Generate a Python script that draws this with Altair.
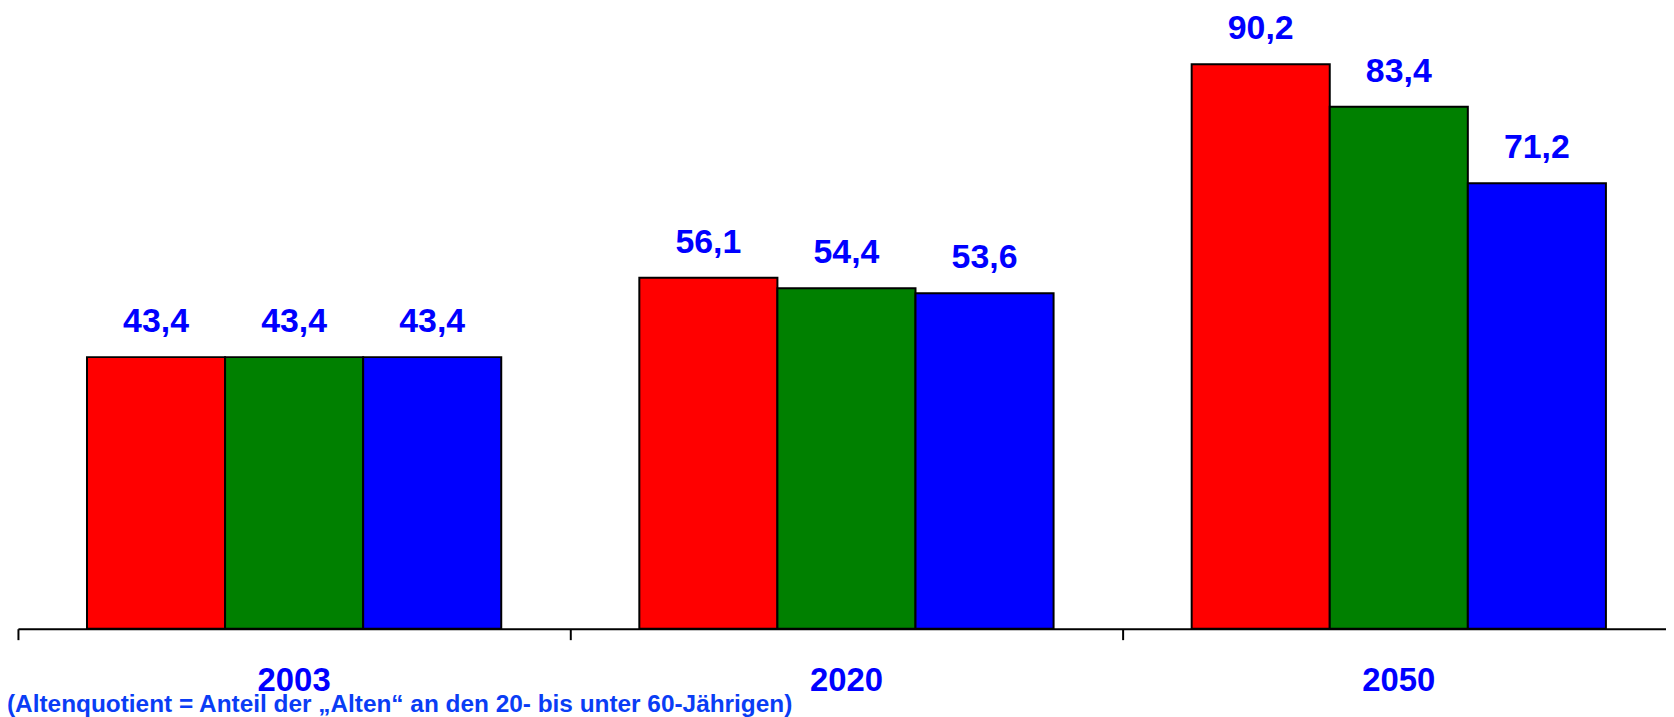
import altair as alt
import pandas as pd

years = ["2003", "2020", "2050"]
series = ["Variante 1", "Variante 2", "Variante 3"]
values_v1 = [43.4, 56.1, 90.2]
values_v2 = [43.4, 54.4, 83.4]
values_v3 = [43.4, 53.6, 71.2]
colors = ["#FF0000", "#008000", "#0000FF"]
footnote = "(Altenquotient = Anteil der „Alten“ an den 20- bis unter 60-Jährigen)"

rows = []
for s, vals in zip(series, [values_v1, values_v2, values_v3]):
    for y, v in zip(years, vals):
        rows.append({"Jahr": y, "Variante": s, "Wert": v,
                     "Label": f"{v:.1f}".replace(".", ",")})
df = pd.DataFrame(rows)

FONT = "Liberation Sans, Arial, Helvetica, sans-serif"

x = alt.X("Jahr:N", sort=years, title=None,
          scale=alt.Scale(paddingInner=0, paddingOuter=0),
          axis=alt.Axis(bandPosition=0, labelOffset=0, labelAngle=0,
                        labelFont=FONT, labelFontSize=33, labelFontWeight="bold",
                        labelColor="#0000FF", labelBaseline="alphabetic",
                        labelPadding=51, tickSize=11, tickWidth=2, tickColor="#000000",
                        domainColor="#000000", domainWidth=2, grid=False))
xo = alt.XOffset("Variante:N", sort=series,
                 scale=alt.Scale(paddingInner=0, paddingOuter=0.5))
y = alt.Y("Wert:Q", title=None, axis=None,
          scale=alt.Scale(domain=[0, 98.6], nice=False, zero=True))

base = alt.Chart(df)

bars = base.mark_bar(stroke="#000000", strokeWidth=2).encode(
    x=x, xOffset=xo, y=y,
    color=alt.Color("Variante:N", sort=series,
                    scale=alt.Scale(domain=series, range=colors), legend=None),
)

labels = base.mark_text(font=FONT, fontSize=34, fontWeight="bold", color="#0000FF",
                        align="center", baseline="alphabetic", dy=-25).encode(
    x=x, xOffset=xo, y=y, text="Label:N"
)

chart = alt.layer(bars, labels).properties(
    width=1665, height=620,
    autosize=alt.AutoSizeParams(type="none"),
    padding={"left": 10, "top": 2, "right": -9, "bottom": 87},
    title=alt.TitleParams(text=footnote, orient="bottom", anchor="start",
                          font=FONT, fontSize=24.5, fontWeight="bold",
                          color="#0A3DF5", dx=-10, offset=-4),
).configure(background="white").configure_view(strokeWidth=0, stroke=None)

chart.save("out.html", embed_options={"renderer": "svg", "actions": False})
